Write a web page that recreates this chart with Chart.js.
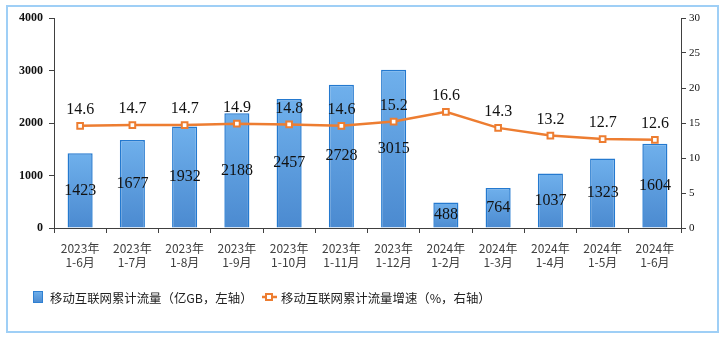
<!DOCTYPE html>
<html>
<head>
<meta charset="utf-8">
<script src="https://cdn.jsdelivr.net/npm/chart.js@4/dist/chart.umd.min.js"></script>
<style>
  body { margin: 0; background: #fff; }
  canvas { display: block; }
</style>
</head>
<body>
<canvas id="chart" width="727" height="340"></canvas>
<script>
// months (cumulative periods)
var periods = [
    ['2023年', '1-6月'], ['2023年', '1-7月'], ['2023年', '1-8月'], ['2023年', '1-9月'],
    ['2023年', '1-10月'], ['2023年', '1-11月'], ['2023年', '1-12月'], ['2024年', '1-2月'],
    ['2024年', '1-3月'], ['2024年', '1-4月'], ['2024年', '1-5月'], ['2024年', '1-6月']
];
// cumulative mobile traffic, 亿GB
var traffic = [1423, 1677, 1932, 2188, 2457, 2728, 3015, 488, 764, 1037, 1323, 1604];
// growth rate, %
var growth = [14.6, 14.7, 14.7, 14.9, 14.8, 14.6, 15.2, 16.6, 14.3, 13.2, 12.7, 12.6];

var trafficName = '移动互联网累计流量（亿GB，左轴）';
var growthName = '移动互联网累计流量增速（%，右轴）';

var serif = '"Liberation Serif", "Times New Roman", serif';
var cjk = '"Noto Sans CJK SC", sans-serif';
var axisColor = '#404040';
var orange = '#ed7d31';

function barGradient(c, top, bottom) {
    var g = c.createLinearGradient(0, top, 0, bottom);
    g.addColorStop(0, '#6fb0ec');
    g.addColorStop(1, '#4b8ad0');
    return g;
}

// frame, value labels and legend
var decorations = {
    id: 'decorations',
    beforeDraw: function(chart) {
        var c = chart.ctx;
        c.save();
        c.fillStyle = '#fff';
        c.fillRect(0, 0, chart.width, chart.height);
        c.strokeStyle = '#9fcff6';
        c.lineWidth = 2;
        c.strokeRect(7, 6, 711, 326);
        c.restore();
    },
    afterDatasetsDraw: function(chart) {
        var c = chart.ctx;
        c.save();
        c.font = '16px ' + serif;
        c.fillStyle = '#111';
        c.textAlign = 'center';
        c.textBaseline = 'middle';
        chart.getDatasetMeta(1).data.forEach(function(bar, i) {
            c.fillText(String(traffic[i]), bar.x, (bar.y + bar.base) / 2);
        });
        chart.getDatasetMeta(0).data.forEach(function(pt, i) {
            c.fillText(growth[i].toFixed(1), pt.x, pt.y - 16);
        });
        c.restore();
    },
    afterDraw: function(chart) {
        var c = chart.ctx;
        c.save();
        c.fillStyle = barGradient(c, 291, 303);
        c.fillRect(33, 291, 10, 12);
        c.strokeStyle = '#2f80d2';
        c.lineWidth = 1;
        c.strokeRect(33.5, 291.5, 9, 11);
        c.strokeStyle = orange;
        c.lineWidth = 2.5;
        c.beginPath();
        c.moveTo(262, 297);
        c.lineTo(277, 297);
        c.stroke();
        c.fillStyle = '#fff';
        c.lineWidth = 2;
        c.fillRect(266, 294, 6, 6);
        c.strokeRect(266, 294, 6, 6);
        c.font = '12.4px ' + cjk;
        c.fillStyle = '#222';
        c.textBaseline = 'middle';
        c.fillText(trafficName, 50, 298);
        c.fillText(growthName, 281, 298);
        c.restore();
    }
};

new Chart(document.getElementById('chart'), {
    data: {
        labels: periods,
        datasets: [
            {
                type: 'line',
                label: growthName,
                data: growth,
                yAxisID: 'y1',
                order: 0,
                borderColor: orange,
                borderWidth: 2.5,
                tension: 0,
                pointStyle: 'rect',
                pointRadius: 4,
                pointBackgroundColor: '#fff',
                pointBorderColor: orange,
                pointBorderWidth: 2
            },
            {
                type: 'bar',
                label: trafficName,
                data: traffic,
                yAxisID: 'y',
                order: 1,
                categoryPercentage: 1,
                barPercentage: 0.48,
                borderColor: '#2479cf',
                borderWidth: 1.5,
                backgroundColor: function(ctx) {
                    var chart = ctx.chart;
                    if (!chart.chartArea || ctx.raw == null) return '#5b9bd5';
                    var top = chart.scales.y.getPixelForValue(ctx.raw);
                    return barGradient(chart.ctx, top, chart.chartArea.bottom);
                }
            }
        ]
    },
    options: {
        responsive: false,
        animation: false,
        events: [],
        layout: { padding: { top: 18, left: 0, right: 0, bottom: 0 } },
        plugins: {
            legend: { display: false },
            tooltip: { enabled: false }
        },
        scales: {
            x: {
                offset: true,
                grid: { drawOnChartArea: false, tickLength: 5, color: axisColor, offset: true },
                border: { color: axisColor, width: 1 },
                ticks: { color: axisColor, font: { family: cjk, size: 12 }, padding: 8, maxRotation: 0, autoSkip: false },
                afterFit: function(s) { s.height = 112; }
            },
            y: {
                position: 'left',
                min: 0,
                max: 4000,
                grid: { drawOnChartArea: false, tickLength: 5, color: axisColor },
                border: { color: axisColor, width: 1 },
                ticks: {
                    stepSize: 1000,
                    color: '#111',
                    font: { family: serif, size: 12, weight: 'bold' },
                    padding: 6,
                    callback: function(v) { return String(v); }
                },
                afterFit: function(s) { s.width = 54; }
            },
            y1: {
                position: 'right',
                min: 0,
                max: 30,
                grid: { drawOnChartArea: false, tickLength: 5, color: axisColor },
                border: { color: axisColor, width: 1 },
                ticks: { stepSize: 5, color: '#111', font: { family: serif, size: 11 }, padding: 3 },
                afterFit: function(s) { s.width = 46; }
            }
        }
    },
    plugins: [decorations]
});
</script>
</body>
</html>
